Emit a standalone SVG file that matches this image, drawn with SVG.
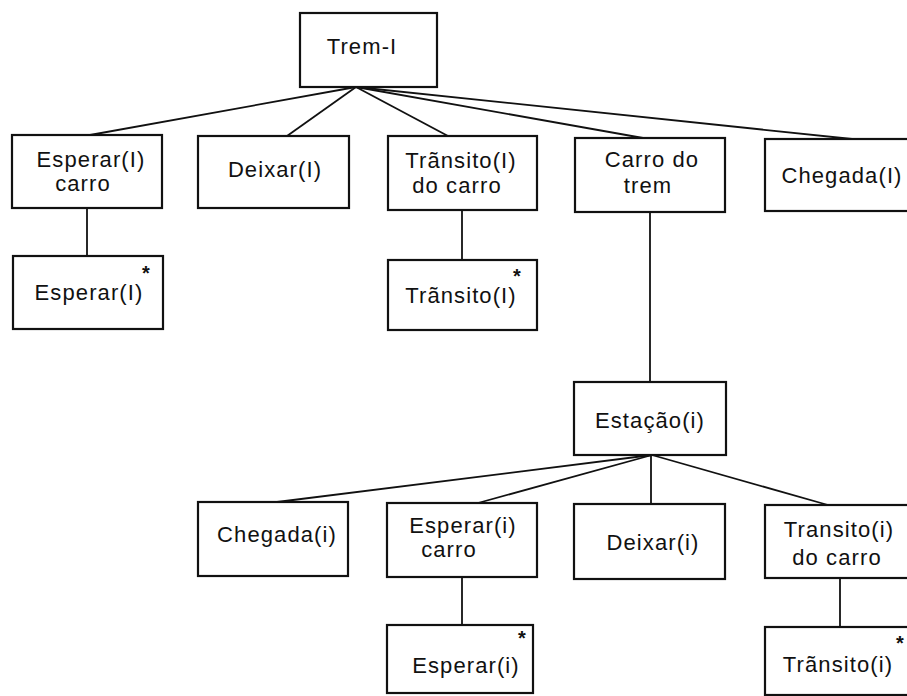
<svg xmlns="http://www.w3.org/2000/svg" width="907" height="696" viewBox="0 0 907 696">
  <style>
    .box { fill: #ffffff; stroke: #111111; stroke-width: 2.2; }
    .edge { fill: none; stroke: #111111; stroke-width: 1.8; }
    .lbl { font-family: "Liberation Sans", "DejaVu Sans", sans-serif; font-size: 22px; fill: #111111; text-anchor: middle; letter-spacing: 1.1px; }
    .star { font-family: "Liberation Sans", "DejaVu Sans", sans-serif; font-size: 20px; font-weight: bold; fill: #111111; text-anchor: middle; }
  </style>
  <rect width="907" height="696" fill="#ffffff"/>

  <!-- tree connectors -->
  <g id="connectors">
    <line class="edge" x1="356" y1="87" x2="90" y2="135"/>
    <line class="edge" x1="356" y1="87" x2="287" y2="136"/>
    <line class="edge" x1="356" y1="87" x2="448" y2="136"/>
    <line class="edge" x1="356" y1="87" x2="643" y2="138"/>
    <line class="edge" x1="356" y1="87" x2="852" y2="139"/>
    <line class="edge" x1="87" y1="208" x2="87" y2="256"/>
    <line class="edge" x1="462" y1="210" x2="462" y2="260"/>
    <line class="edge" x1="650" y1="212" x2="650" y2="382"/>
    <line class="edge" x1="652" y1="455" x2="277" y2="502"/>
    <line class="edge" x1="652" y1="455" x2="478" y2="503"/>
    <line class="edge" x1="651" y1="455" x2="651" y2="504"/>
    <line class="edge" x1="652" y1="455" x2="828" y2="505"/>
    <line class="edge" x1="462" y1="577" x2="462" y2="625"/>
    <line class="edge" x1="840" y1="578" x2="840" y2="627"/>
  </g>

  <g id="trem">
    <rect class="box" x="300" y="13" width="137" height="74"/>
    <text class="lbl" x="362" y="54">Trem-I</text>
  </g>

  <g id="esperar-carro-I">
    <rect class="box" x="12" y="135" width="150" height="73"/>
    <text class="lbl" x="91" y="167">Esperar(I)</text>
    <text class="lbl" x="83" y="191">carro</text>
  </g>
  <g id="deixar-I">
    <rect class="box" x="198" y="136" width="151" height="72"/>
    <text class="lbl" x="275" y="177">Deixar(I)</text>
  </g>
  <g id="transito-carro-I">
    <rect class="box" x="388" y="136" width="149" height="74"/>
    <text class="lbl" x="461" y="168">Trãnsito(I)</text>
    <text class="lbl" x="457" y="193">do carro</text>
  </g>
  <g id="carro-trem">
    <rect class="box" x="575" y="138" width="150" height="74"/>
    <text class="lbl" x="652" y="167">Carro do</text>
    <text class="lbl" x="648" y="193">trem</text>
  </g>
  <g id="chegada-I">
    <rect class="box" x="765" y="139" width="150" height="72"/>
    <text class="lbl" x="842" y="183">Chegada(I)</text>
  </g>

  <g id="esperar-I">
    <rect class="box" x="13" y="256" width="150" height="73"/>
    <text class="lbl" x="89" y="300">Esperar(I)</text>
    <text class="star" x="146" y="280">*</text>
  </g>
  <g id="transito-I">
    <rect class="box" x="388" y="260" width="149" height="70"/>
    <text class="lbl" x="461" y="303">Trãnsito(I)</text>
    <text class="star" x="517" y="283">*</text>
  </g>

  <g id="estacao">
    <rect class="box" x="574" y="382" width="152" height="73"/>
    <text class="lbl" x="650" y="428">Estação(i)</text>
  </g>

  <g id="chegada-i">
    <rect class="box" x="198" y="502" width="150" height="74"/>
    <text class="lbl" x="277" y="542">Chegada(i)</text>
  </g>
  <g id="esperar-carro-i">
    <rect class="box" x="387" y="503" width="150" height="74"/>
    <text class="lbl" x="463" y="533">Esperar(i)</text>
    <text class="lbl" x="449" y="557">carro</text>
  </g>
  <g id="deixar-i">
    <rect class="box" x="574" y="504" width="151" height="75"/>
    <text class="lbl" x="653" y="550">Deixar(i)</text>
  </g>
  <g id="transito-carro-i">
    <rect class="box" x="765" y="505" width="150" height="73"/>
    <text class="lbl" x="839" y="537">Transito(i)</text>
    <text class="lbl" x="837" y="565">do carro</text>
  </g>

  <g id="esperar-i">
    <rect class="box" x="387" y="625" width="146" height="68"/>
    <text class="lbl" x="466" y="673">Esperar(i)</text>
    <text class="star" x="522" y="645">*</text>
  </g>
  <g id="transito-i">
    <rect class="box" x="765" y="627" width="150" height="68"/>
    <text class="lbl" x="838" y="672">Trãnsito(i)</text>
    <text class="star" x="900" y="650">*</text>
  </g>
</svg>
